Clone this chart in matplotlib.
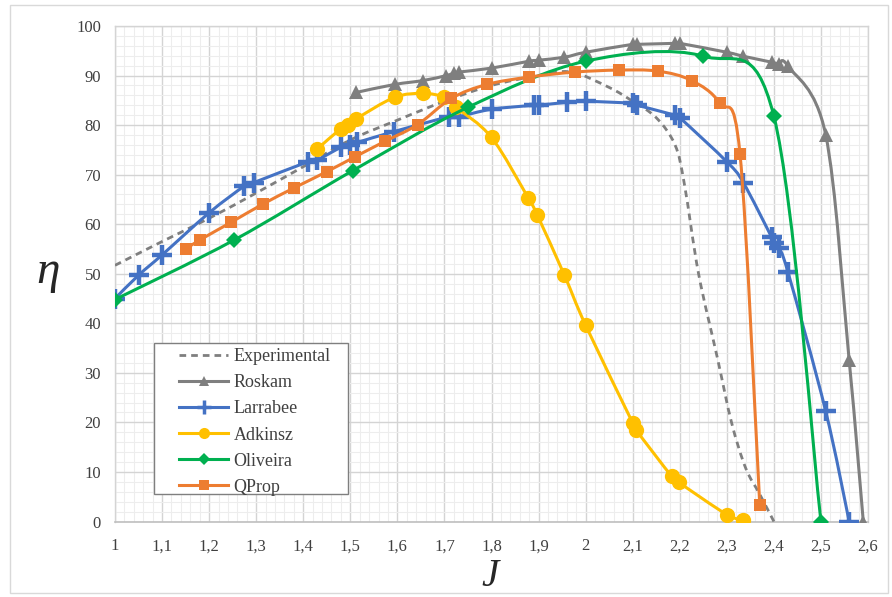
import numpy as np
import matplotlib
matplotlib.use("Agg")
import matplotlib.pyplot as plt
from matplotlib.path import Path
from matplotlib.patches import PathPatch, Rectangle
from matplotlib.lines import Line2D
from matplotlib.ticker import MultipleLocator, FuncFormatter

# ---------------- data ----------------
exp_J = [1.0, 1.1, 1.2, 1.3, 1.4, 1.5, 1.6, 1.7, 1.8, 1.9, 1.97, 2.05, 2.10, 2.15, 2.19, 2.21,
         2.24, 2.28, 2.31, 2.34, 2.37, 2.40]
exp_eta = [51.7, 56.5, 61.2, 66.3, 71.6, 77.0, 81.0, 84.8, 88.0, 90.0, 90.7, 87.6, 84.8, 81.5,
           76.0, 68.0, 50.0, 33.0, 20.0, 10.8, 5.5, 0.0]

roskam_J = [1.513, 1.594, 1.655, 1.704, 1.72, 1.73, 1.80, 1.88, 1.90, 1.955, 2.0, 2.10, 2.11,
            2.19, 2.20, 2.30, 2.335, 2.395, 2.41, 2.43, 2.51, 2.56, 2.59]
roskam_eta = [86.6, 88.2, 89.0, 90.0, 90.5, 90.7, 91.5, 92.9, 93.1, 93.7, 94.7, 96.3, 96.3,
              96.5, 96.5, 94.7, 93.9, 92.7, 92.3, 91.9, 78.1, 32.5, 0.0]

larrabee_J = [1.0, 1.05, 1.10, 1.20, 1.275, 1.295, 1.41, 1.43, 1.48, 1.50, 1.515, 1.593, 1.71,
              1.73, 1.80, 1.89, 1.90, 1.96, 2.0, 2.10, 2.11, 2.19, 2.20, 2.30, 2.335, 2.395,
              2.40, 2.41, 2.43, 2.51, 2.56]
larrabee_eta = [45.0, 49.7, 53.8, 62.3, 67.7, 68.4, 72.6, 73.0, 75.5, 76.0, 76.5, 78.7, 81.7,
                81.7, 83.2, 84.0, 84.0, 84.6, 84.8, 84.4, 84.0, 82.0, 81.5, 72.6, 68.4, 57.4,
                56.2, 55.2, 50.3, 22.3, 0.0]

adkinsz_J = [1.43, 1.48, 1.495, 1.513, 1.594, 1.655, 1.70, 1.725, 1.80, 1.878, 1.897, 1.955,
             2.0, 2.10, 2.107, 2.183, 2.198, 2.30, 2.335]
adkinsz_eta = [75.2, 79.3, 80.1, 81.3, 85.6, 86.4, 85.6, 83.6, 77.5, 65.3, 61.9, 49.7, 39.6,
               19.9, 18.5, 9.1, 7.9, 1.4, 0.4]

oliveira_J = [1.0, 1.253, 1.505, 1.75, 2.0, 2.25, 2.40, 2.50]
oliveira_eta = [44.8, 56.8, 70.8, 83.6, 92.9, 93.9, 81.8, 0.0]

qprop_J = [1.15, 1.18, 1.247, 1.315, 1.38, 1.45, 1.51, 1.573, 1.643, 1.715, 1.79, 1.88, 1.977,
           2.07, 2.153, 2.225, 2.285, 2.328, 2.37]
qprop_eta = [55.0, 56.8, 60.4, 64.1, 67.3, 70.6, 73.6, 76.7, 80.1, 85.4, 88.2, 89.7, 90.7,
             91.1, 90.9, 89.0, 84.4, 74.2, 3.4]

labels = ["Experimental", "Roskam", "Larrabee", "Adkinsz", "Oliveira", "QProp"]
x_ticks = [1.0, 1.1, 1.2, 1.3, 1.4, 1.5, 1.6, 1.7, 1.8, 1.9, 2.0, 2.1, 2.2, 2.3, 2.4, 2.5, 2.6]
y_ticks = [0, 10, 20, 30, 40, 50, 60, 70, 80, 90, 100]

# ---------------- styles ----------------
GRAY = "#7F7F7F"
BLUE = "#4472C4"
YELLOW = "#FFC000"
GREEN = "#00B050"
ORANGE = "#ED7D31"
SERIF = ["Liberation Serif", "DejaVu Serif"]

plt.rcParams["font.family"] = SERIF

W, H = 892, 597
fig = plt.figure(figsize=(W / 100, H / 100), dpi=100)
ax = fig.add_axes([115 / W, 1 - 521.5 / H, (868 - 115) / W, (521.5 - 26) / H])


def smooth_path(xs, ys):
    """Excel-like smoothed line: cubic Bezier segments through the data points."""
    P = np.column_stack([xs, ys]).astype(float)
    n = len(P)
    verts = [P[0]]
    codes = [Path.MOVETO]
    for i in range(n - 1):
        p0 = P[i - 1] if i > 0 else P[i]
        p1 = P[i]
        p2 = P[i + 1]
        p3 = P[i + 2] if i + 2 < n else P[i + 1]
        c1 = p1 + (p2 - p0) / 6.0
        c2 = p2 - (p3 - p1) / 6.0
        verts += [c1, c2, p2]
        codes += [Path.CURVE4] * 3
    return Path(np.array(verts), codes)


def draw_series(xs, ys, color, ls, marker, ms, mew, z, lw=2.2):
    patch = PathPatch(smooth_path(xs, ys), facecolor="none", edgecolor=color, lw=lw,
                      linestyle=ls, zorder=z, capstyle="butt")
    ax.add_patch(patch)
    if marker is not None:
        if marker == "+":
            ax.plot(xs, ys, linestyle="none", marker="+", ms=ms, mew=mew, color=color,
                    zorder=z + 0.5)
        else:
            ax.plot(xs, ys, linestyle="none", marker=marker, ms=ms, mew=0, color=color,
                    zorder=z + 0.5)


DASH = (0, (2.4, 1.8))
draw_series(exp_J, exp_eta, GRAY, DASH, None, 0, 0, 3, lw=2.0)
draw_series(roskam_J, roskam_eta, GRAY, "-", "^", 10, 0, 4)
draw_series(larrabee_J, larrabee_eta, BLUE, "-", "+", 15, 3.2, 5)
draw_series(adkinsz_J, adkinsz_eta, YELLOW, "-", "o", 11, 0, 6)
draw_series(oliveira_J, oliveira_eta, GREEN, "-", "D", 8, 0, 7)
draw_series(qprop_J, qprop_eta, ORANGE, "-", "s", 8.5, 0, 8)

# ---------------- axes ----------------
ax.set_xlim(1.0, 2.6)
ax.set_ylim(0, 100)
ax.set_xticks(x_ticks)
ax.set_yticks(y_ticks)
ax.xaxis.set_minor_locator(MultipleLocator(0.02))
ax.yaxis.set_minor_locator(MultipleLocator(2))
ax.xaxis.set_major_formatter(FuncFormatter(lambda v, p: f"{v:g}".replace(".", ",")))
ax.grid(True, which="major", color="#D4D4D4", lw=1.0, zorder=0)
ax.grid(True, which="minor", color="#EDEDED", lw=0.8, zorder=0)
ax.set_axisbelow(True)
for s in ["top", "right", "left"]:
    ax.spines[s].set_color("#D4D4D4")
    ax.spines[s].set_linewidth(1.0)
ax.spines["bottom"].set_color("#BFBFBF")
ax.spines["bottom"].set_linewidth(1.2)
ax.tick_params(which="both", length=0)
ax.tick_params(axis="x", pad=12, labelsize=12, labelcolor="#404040")
ax.tick_params(axis="y", pad=10, labelsize=12, labelcolor="#404040")

fig.text(48 / W, 1 - 272 / H, "η", fontsize=34, ha="center", va="center",
         style="italic", color="#262626", family=SERIF)
fig.text(490 / W, 1 - 577 / H, "J", fontsize=28, ha="center", va="center",
         style="italic", color="#262626", family=SERIF)

# ---------------- legend ----------------
handles = [
    Line2D([], [], color=GRAY, lw=2.0, ls=DASH),
    Line2D([], [], color=GRAY, lw=2.2, marker="^", ms=7, mew=0),
    Line2D([], [], color=BLUE, lw=2.2, marker="+", ms=10, mew=2.5),
    Line2D([], [], color=YELLOW, lw=2.2, marker="o", ms=8, mew=0),
    Line2D([], [], color=GREEN, lw=2.2, marker="D", ms=6, mew=0),
    Line2D([], [], color=ORANGE, lw=2.2, marker="s", ms=7, mew=0),
]
# legend box (frame drawn separately to match the reference padding)
ax.add_patch(Rectangle((154 / W, 1 - 494 / H), (348 - 154) / W, (494 - 343) / H,
                       transform=fig.transFigure, facecolor="white", edgecolor="#7F7F7F",
                       lw=1.0, zorder=19))
leg = ax.legend(handles, labels, loc="upper left",
                bbox_to_anchor=(174 / W, 1 - 343 / H), bbox_transform=fig.transFigure,
                prop={"family": SERIF, "size": 13}, handlelength=2.7, handletextpad=0.3,
                labelspacing=0.5, borderpad=0.3, borderaxespad=0, frameon=False)
for t in leg.get_texts():
    t.set_color("#404040")
leg.set_zorder(20)

# outer chart border
fig.patches.append(Rectangle((10 / W, 4 / H), 878 / W, 588 / H, transform=fig.transFigure,
                             fill=False, edgecolor="#D9D9D9", lw=1.0))

fig.savefig("out.png", dpi=100)
